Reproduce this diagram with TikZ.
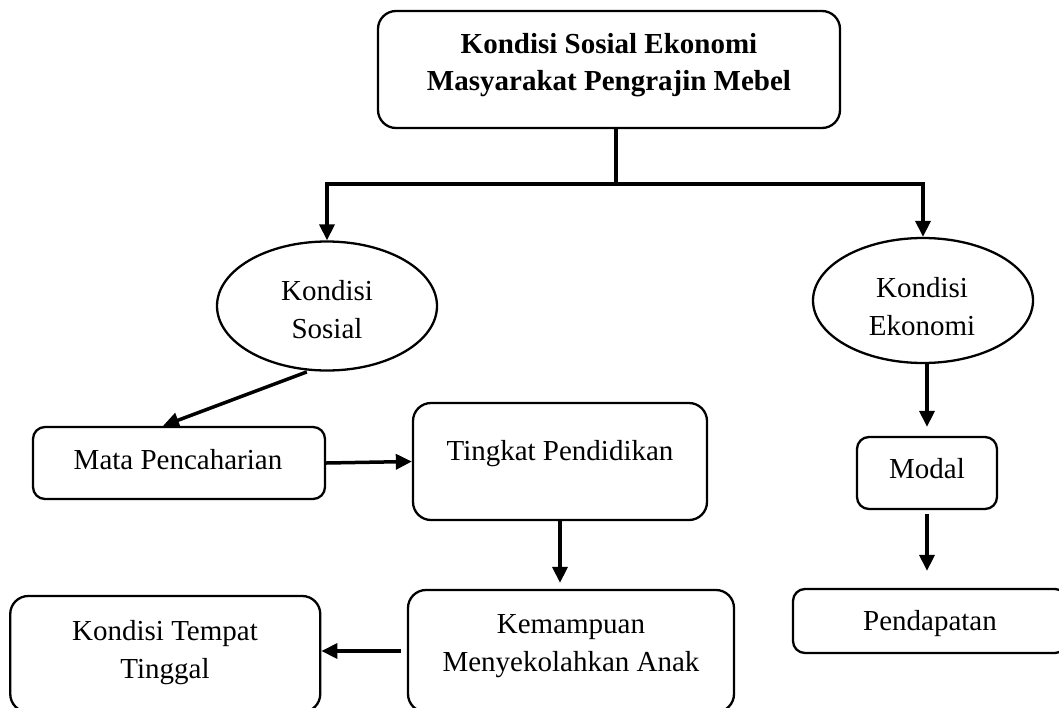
\documentclass[tikz,border=0pt]{standalone}
\usepackage{fontspec}
\setmainfont{Liberation Serif}
\usetikzlibrary{arrows.meta,shapes.geometric}
\tikzset{
  box/.style={draw, line width=2.3pt, rounded corners=12pt, inner sep=0pt},
  bigbox/.style={box, rounded corners=18pt},
  oval/.style={draw, ellipse, line width=2.3pt, inner sep=0pt},
  txt/.style={font=\fontsize{29pt}{37.5pt}\selectfont, align=center, inner sep=0pt},
  conn/.style={line width=3.5pt, -{Triangle[length=16pt,width=15pt]}},
  stem/.style={line width=3.5pt},
}
\begin{document}
\begin{tikzpicture}[x=1pt,y=-1pt]
\clip (0,0) rectangle (1059,707);
\fill[white] (0,0) rectangle (1059,707);
% shapes
\node[bigbox, minimum width=462pt, minimum height=117pt] (top) at (609,69.5) {};
\node[oval, minimum width=220pt, minimum height=129pt] (es) at (327,306) {};
\node[oval, minimum width=220pt, minimum height=125pt] (ee) at (923,300.5) {};
\node[box, minimum width=292pt, minimum height=72pt] (mata) at (179,463) {};
\node[bigbox, minimum width=294pt, minimum height=117pt] (tp) at (560,461.5) {};
\node[box, minimum width=140pt, minimum height=72pt] (modal) at (927,473) {};
\node[box, minimum width=274pt, minimum height=64pt] (pend) at (930,621) {};
\node[bigbox, minimum width=310pt, minimum height=116pt] (kt) at (165.25,654) {};
\node[bigbox, minimum width=326pt, minimum height=122pt] (km) at (571,651) {};
% texts
\node[txt, font=\fontsize{29pt}{37.5pt}\selectfont\bfseries] (topText) at (609,64.3) {\strut Kondisi Sosial Ekonomi\\\strut Masyarakat Pengrajin Mebel};
\node[txt] (esText) at (327,312) {\strut Kondisi\\\strut Sosial};
\node[txt] (eeText) at (922,309) {\strut Kondisi\\\strut Ekonomi};
\node[txt] (mataText) at (178,461.5) {\strut Mata Pencaharian};
\node[txt] (tpText) at (560,452.5) {\strut Tingkat Pendidikan};
\node[txt] (modalText) at (927,470.5) {\strut Modal};
\node[txt] (pendText) at (930,622.5) {\strut Pendapatan};
\node[txt] (ktText) at (165,652) {\strut Kondisi Tempat\\\strut Tinggal};
\node[txt] (kmText) at (571,645) {\strut Kemampuan\\\strut Menyekolahkan Anak};
% connectors
\coordinate (j) at (616,184);
\draw[stem] (top.south -| j) -- (j);
\draw[conn] (j) -| (es.north);
\draw[conn] (j) -| (ee.north);
\draw[conn, shorten <=3pt] (es.255) -- ([xshift=-16pt]mata.north);
\draw[conn] (mata.east) -- (tp.west);
\draw[conn, shorten >=6pt] (tp.south) -- (tp.south |- km.north);
\draw[conn, shorten <=6pt] (km.west) -- (km.west -| kt.east);
\draw[conn, shorten >=9pt] (modal.north |- ee.south) -- (modal.north);
\draw[conn, shorten <=4pt, shorten >=17pt] (modal.south) -- (modal.south |- pend.north);
\end{tikzpicture}
\end{document}
